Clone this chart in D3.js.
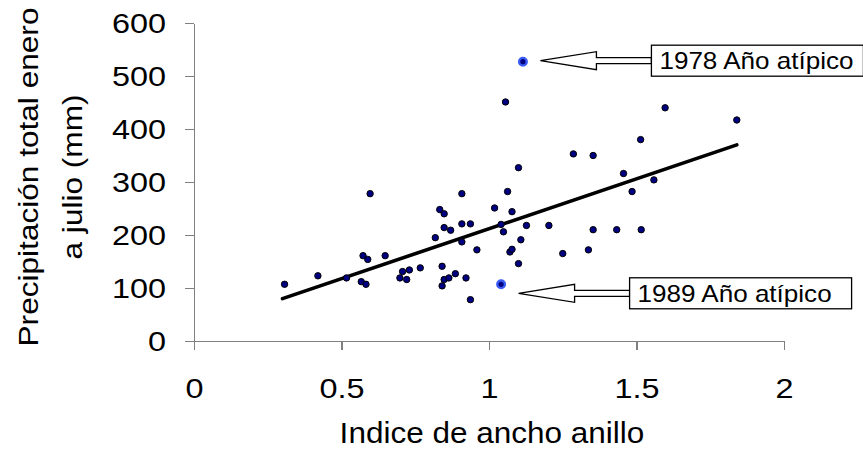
<!DOCTYPE html>
<meta charset="utf-8">
<script src="https://cdn.jsdelivr.net/npm/d3@7/dist/d3.min.js"></script>
<style>
	body{margin:0;background:#fff;}
	text{font-family:"Liberation Sans",Arial,sans-serif;fill:#000;}
	.axis path,.axis line{stroke:#808080;stroke-width:1.2;shape-rendering:crispEdges;}
	.axis text{font-size:27px;}
</style>
<div id="chart"></div>
<script>
// indice de ancho anillo / precipitacion enero-julio (mm)
var ringIndex = [0.307,0.420,0.517,0.567,0.583,0.573,0.589,0.597,0.648,0.698,
	0.707,0.721,0.730,0.767,0.818,0.833,0.841,0.841,0.848,0.848,
	0.848,0.864,0.870,0.886,0.908,0.908,0.908,0.922,0.937,0.937,
	0.959,1.019,1.041,1.049,1.056,1.063,1.071,1.078,1.078,1.100,
	1.100,1.108,1.127,1.203,1.250,1.286,1.337,1.353,1.353,1.433,
	1.456,1.485,1.514,1.516,1.559,1.597,1.840]
var rainfall = [107,123,119,112,107,161,154,278,161,119,
	131,116,134,138,195,248,141,104,240,214,
	116,119,209,127,278,221,187,119,221,78,
	172,251,220,206,451,282,168,173,244,327,
	146,191,218,218,165,353,172,350,210,210,
	316,282,380,210,304,440,417]

// años atipicos
var outlierYears = ["1978","1989"]
var outlierIndex = [1.115,1.041]
var outlierRain = [527,107]
var outlierLabels = ["1978 Año atípico","1989 Año atípico"]

// recta de regresion (extremos)
var trendX = [0.30,1.84]
var trendY = [80,370]

var xTicks = [0,0.5,1,1.5,2]
var yTicks = [0,100,200,300,400,500,600]

var width = 863
var height = 453

var svg = d3.select("#chart").append("svg")
	.attr("width",width)
	.attr("height",height)

// the original text is wider than plain Arial, stretch it a bit
function stretch(sel,k){
	sel.each(function(){
		var w = this.getComputedTextLength()
		d3.select(this).attr("textLength",w*k).attr("lengthAdjust","spacingAndGlyphs")
	})
}

var xScale = d3.scaleLinear().domain([0,2]).range([194,784])
var yScale = d3.scaleLinear().domain([0,600]).range([341,23])

var xAxis = d3.axisBottom(xScale).tickValues(xTicks).tickSize(9).tickSizeOuter(0)
	.tickFormat(function(d){return String(d)})
var yAxis = d3.axisLeft(yScale).tickValues(yTicks).tickSize(9).tickSizeOuter(0)

var gx = svg.append("g").attr("class","axis")
	.attr("transform","translate(0,"+yScale(0)+")")
	.call(xAxis)
gx.selectAll("text").attr("y",57).attr("dy",0).call(stretch,1.2)

var gy = svg.append("g").attr("class","axis")
	.attr("transform","translate("+xScale(0)+",0)")
	.call(yAxis)
gy.selectAll("text").attr("x",-28).attr("dy","0.36em").call(stretch,1.2)

// axis titles
svg.append("text")
	.attr("x",492)
	.attr("y",443)
	.attr("text-anchor","middle")
	.style("font-size","30px")
	.text("Indice de ancho anillo")
	.call(stretch,1.05)

var yTitle = svg.append("g").attr("transform","rotate(-90)")
yTitle.append("text")
	.attr("x",-177).attr("y",38)
	.attr("text-anchor","middle")
	.style("font-size","27px")
	.text("Precipitación total enero")
	.call(stretch,1.17)
yTitle.append("text")
	.attr("x",-177).attr("y",82)
	.attr("text-anchor","middle")
	.style("font-size","27px")
	.text("a julio (mm)")
	.call(stretch,1.17)

// regression line
svg.append("path")
	.datum(d3.range(trendX.length))
	.attr("fill","none")
	.attr("stroke","#000")
	.attr("stroke-width",3.6)
	.attr("stroke-linecap","round")
	.attr("d",d3.line()
		.x(function(i){return xScale(trendX[i])})
		.y(function(i){return yScale(trendY[i])}))

// points
svg.append("g").selectAll("circle")
	.data(d3.range(ringIndex.length))
	.enter()
	.append("circle")
	.attr("cx",function(i){return xScale(ringIndex[i])})
	.attr("cy",function(i){return yScale(rainfall[i])})
	.attr("r",3.2)
	.attr("fill","#000080")
	.attr("stroke","#000")
	.attr("stroke-width",1)

svg.append("g").selectAll("circle")
	.data(d3.range(outlierYears.length))
	.enter()
	.append("circle")
	.attr("cx",function(i){return xScale(outlierIndex[i])})
	.attr("cy",function(i){return yScale(outlierRain[i])})
	.attr("r",3.8)
	.attr("fill","#000080")
	.attr("stroke","#3a5cf5")
	.attr("stroke-width",2.4)

// callouts: block arrow pointing left + boxed label
var arrowDy = [-1,9]
var boxW = [212,222]
var arrowShape = [[0,0],[56,-9],[56,-3],[111,-3],[111,3],[56,3],[56,9]]

for(var i=0;i<outlierYears.length;i++){
	var tx = xScale(outlierIndex[i])+17.5
	var ty = yScale(outlierRain[i])+arrowDy[i]
	var g = svg.append("g").attr("transform","translate("+tx+","+ty+")")
	g.append("polygon")
		.attr("points",arrowShape.map(function(p){return p.join(",")}).join(" "))
		.attr("fill","#fff")
		.attr("stroke","#000")
		.attr("stroke-width",1.3)
	g.append("rect")
		.attr("x",111).attr("y",-15.5)
		.attr("width",boxW[i]).attr("height",31)
		.attr("fill","#fff")
		.attr("stroke","#000")
		.attr("stroke-width",1.3)
	g.append("text")
		.attr("x",119).attr("y",8.5)
		.style("font-size","24px")
		.text(outlierLabels[i])
		.call(stretch,1.085)
}
</script>
